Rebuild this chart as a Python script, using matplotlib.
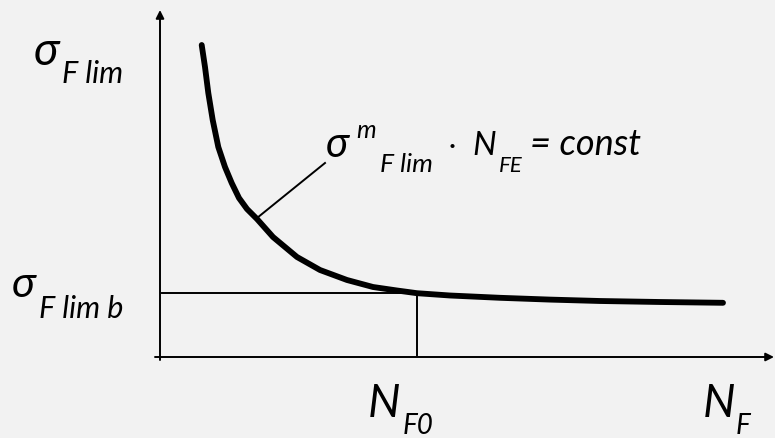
import numpy as np
import matplotlib.pyplot as plt

# curve (x ~ N_F, y ~ sigma_F lim, arbitrary units, origin at axes corner)
n_curve = [4.17, 4.5, 4.83, 5.27, 5.83, 6.5, 7.17, 7.9, 8.7, 9.7, 11.3, 13.7,
           16.0, 18.7, 21.3, 23.7, 25.7, 29.0, 34.0, 39.0, 44.0, 50.0, 56.3]
s_curve = [31.2, 29.0, 26.4, 23.7, 21.0, 19.0, 17.4, 15.9, 14.8, 13.8, 12.0, 10.0,
           8.7, 7.7, 7.0, 6.65, 6.38, 6.15, 5.92, 5.74, 5.6, 5.5, 5.42]
n_f0 = 25.7
s_lim_b = 6.43
pointer_from = (9.7, 13.9)
pointer_to = (16.5, 19.4)

bg = '#f2f2f2'
fam = ['Lato', 'DejaVu Sans']

fig = plt.figure(figsize=(7.75, 4.38), dpi=100, facecolor=bg)
ax = fig.add_axes([0, 0, 1, 1])
ax.set_facecolor(bg)
ax.set_xlim(-16.0, 61.5)
ax.set_ylim(-8.1, 35.7)
ax.axis('off')

# axes with arrows
ax.annotate('', xy=(0, 34.7), xytext=(0, -0.3),
            arrowprops=dict(arrowstyle='-|>', lw=1.4, color='black', mutation_scale=12, shrinkA=0, shrinkB=0))
ax.annotate('', xy=(61.4, 0), xytext=(-0.5, 0),
            arrowprops=dict(arrowstyle='-|>', lw=1.4, color='black', mutation_scale=12, shrinkA=0, shrinkB=0))

# helper lines
ax.plot([0.2, n_f0], [s_lim_b, s_lim_b], color='black', lw=1.4)
ax.plot([n_f0, n_f0], [s_lim_b - 0.1, 0.2], color='black', lw=1.4)
ax.plot([pointer_from[0], pointer_to[0]], [pointer_from[1], pointer_to[1]], color='black', lw=1.4)

# main curve
ax.plot(n_curve, s_curve, color='black', lw=4.2, solid_capstyle='round', solid_joinstyle='round')


def t(x, y, s, size, **kw):
    fig.text(x / 775, 1 - y / 438, s, fontsize=size, style='italic', family=fam,
             va='baseline', ha='left', **kw)


# y labels
t(34, 65, 'σ', 33)
t(62, 83, 'F lim', 22)
t(12, 297, 'σ', 31)
t(39, 318, 'F lim b', 22)

# x labels
t(368, 417, 'N', 33)
t(403, 434, 'F0', 20)
t(703, 417, 'N', 33)
t(736, 434, 'F', 20)

# formula
t(326, 157, 'σ', 30)
t(356, 138, 'm', 18)
t(380, 172, 'F lim', 19)
t(449, 155, '·', 20)
t(472, 155, 'N', 24)
t(499, 172, 'FE', 16)
t(530, 155, '= const', 26)

fig.savefig('out.png', dpi=100, facecolor=bg)
